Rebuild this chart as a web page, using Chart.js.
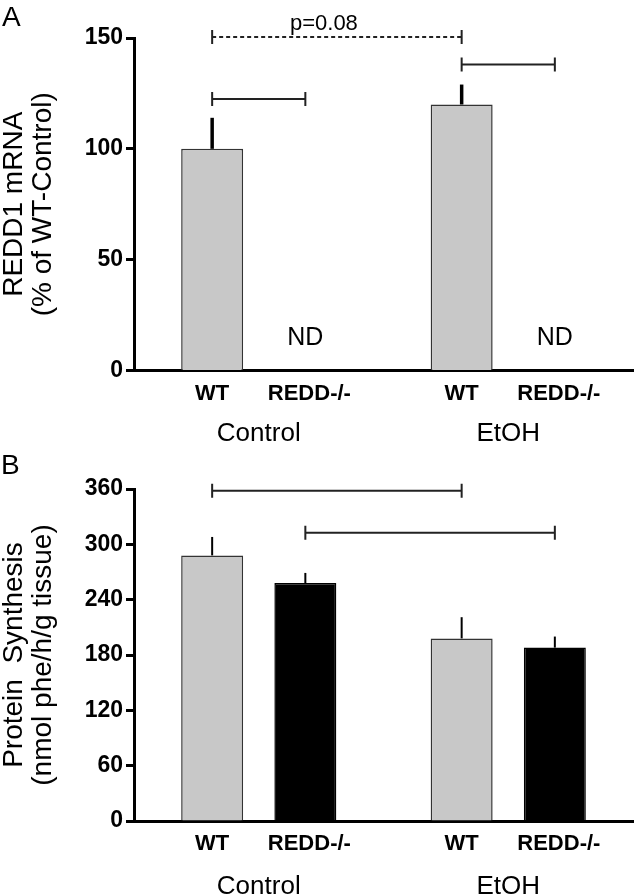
<!DOCTYPE html>
<html>
<head>
<meta charset="utf-8">
<script src="https://cdn.jsdelivr.net/npm/chart.js@4/dist/chart.umd.min.js"></script>
<style>
  html, body { margin: 0; padding: 0; background: #fff; }
  #page { position: relative; width: 640px; height: 896px; font-family: "Liberation Sans", Arial, sans-serif; }
  .panel { position: absolute; left: 0; width: 640px; height: 448px; }
  .tag { position: absolute; line-height: 1; color: #000; }
</style>
</head>
<body>
<div id="page">
  <div class="panel" style="top: 0;"><canvas id="chartA" width="640" height="448"></canvas></div>
  <div class="panel" style="top: 448px;"><canvas id="chartB" width="640" height="448"></canvas></div>
  <div class="tag" style="left: 2px; top: 3px; font-size: 28px;">A</div>
  <div class="tag" style="left: 1px; top: 451px; font-size: 28px;">B</div>
</div>
<script>
// DATA
const groups = ['Control', 'EtOH'];
const genotypes = ['WT', 'REDD-/-'];

// panel A: REDD1 mRNA, % of WT-Control (REDD-/- not detected)
const mrnaWT = [100, 120];
const mrnaWTErr = [14, 9];
const mrnaREDD = [null, null];
const mrnaREDDErr = [0, 0];
const mrnaTicks = [0, 50, 100, 150];
const mrnaBracketLevels = [122.5, 138, 150.5];
const mrnaPLabel = 'p=0.08';

// panel B: protein synthesis, nmol phe/h/g tissue
const synthWT = [288, 198];
const synthWTErr = [20, 23];
const synthREDD = [258, 188];
const synthREDDErr = [11, 12];
const synthTicks = [0, 60, 120, 180, 240, 300, 360];
const synthBracketLevels = [358, 312.5];

Chart.defaults.font.family = '"Liberation Sans", Arial, sans-serif';
Chart.defaults.color = '#000';

// draws error bars, sub labels, ND marks and the significance brackets
const annotatePlugin = {
    id: 'annotate',
    afterDatasetsDraw(chart, args, opts) {
        const ctx = chart.ctx;
        const yScale = chart.scales.y;
        const area = chart.chartArea;
        ctx.save();

        chart.data.datasets.forEach((ds, d) => {
            const meta = chart.getDatasetMeta(d);
            meta.data.forEach((bar, i) => {
                const v = ds.data[i];
                if (v == null) {
                    ctx.fillStyle = '#000';
                    ctx.font = '25px "Liberation Sans", Arial, sans-serif';
                    ctx.textAlign = 'center'; ctx.textBaseline = 'middle';
                    ctx.fillText('ND', bar.x, area.bottom - 32);
                } else {
                    const top = yScale.getPixelForValue(v + opts.errors[d][i]);
                    ctx.strokeStyle = '#000'; ctx.lineWidth = opts.errWidth; ctx.setLineDash([]);
                    ctx.beginPath(); ctx.moveTo(bar.x, bar.y); ctx.lineTo(bar.x, top); ctx.stroke();
                }
                // genotype label under each bar
                ctx.fillStyle = '#000';
                ctx.font = 'bold 22px "Liberation Sans", Arial, sans-serif';
                ctx.textAlign = 'center'; ctx.textBaseline = 'middle';
                ctx.fillText(genotypes[d], bar.x + d * 4, area.bottom + 23);
            });
        });

        opts.brackets.forEach(b => {
            const x1 = chart.getDatasetMeta(b.from[0]).data[b.from[1]].x;
            const x2 = chart.getDatasetMeta(b.to[0]).data[b.to[1]].x;
            const yy = yScale.getPixelForValue(b.level);
            ctx.strokeStyle = '#222'; ctx.lineWidth = 2;
            ctx.setLineDash(b.dashed ? [4, 3] : []);
            ctx.beginPath(); ctx.moveTo(x1, yy); ctx.lineTo(x2, yy); ctx.stroke();
            ctx.setLineDash([]);
            ctx.beginPath();
            ctx.moveTo(x1, yy - 7); ctx.lineTo(x1, yy + 7);
            ctx.moveTo(x2, yy - 7); ctx.lineTo(x2, yy + 7);
            ctx.stroke();
            if (b.label) {
                ctx.fillStyle = '#000';
                ctx.font = '22px "Liberation Sans", Arial, sans-serif';
                ctx.textAlign = 'center'; ctx.textBaseline = 'alphabetic';
                ctx.fillText(b.label, (x1 + x2) / 2 - 13, yy - 7);
            }
        });
        ctx.restore();
    }
};

function buildPanel(id, p) {
    const ctx = document.getElementById(id).getContext('2d');
    return new Chart(ctx, {
        type: 'bar',
        data: {
            labels: groups,
            datasets: [
                { label: genotypes[0], data: p.wt, backgroundColor: '#c8c8c8', borderColor: '#333', borderWidth: 1.5 },
                { label: genotypes[1], data: p.redd, backgroundColor: '#000', borderColor: '#000', borderWidth: 1.5 }
            ]
        },
        plugins: [annotatePlugin],
        options: {
            responsive: false, animation: false,
            layout: { padding: { top: p.top, right: 7, left: 0, bottom: 0 } },
            datasets: { bar: { categoryPercentage: 0.747, barPercentage: 0.665 } },
            plugins: {
                legend: { display: false }, tooltip: { enabled: false },
                annotate: { errors: [p.wtErr, p.reddErr], errWidth: p.errWidth, brackets: p.brackets }
            },
            scales: {
                x: {
                    grid: { display: false },
                    border: { display: true, color: '#000', width: 3 },
                    ticks: { font: { size: 26 }, color: '#000', padding: p.xPad },
                    afterFit: (s) => { s.height = 448 - p.bottom; }
                },
                y: {
                    min: 0, max: p.ticks[p.ticks.length - 1],
                    afterBuildTicks: (s) => { s.ticks = p.ticks.map(v => ({ value: v })); },
                    grid: { display: true, drawOnChartArea: false, drawTicks: true, tickLength: 8, tickWidth: 3, tickColor: '#000', color: '#000' },
                    border: { display: true, color: '#000', width: 3 },
                    ticks: { font: { size: 23, weight: 'bold' }, color: '#000', padding: 3 },
                    title: { display: true, text: p.title, font: { size: 28, lineHeight: 1.04 }, color: '#000', padding: { top: 0, bottom: 0 } },
                    afterFit: (s) => { s.width = 134; }
                }
            }
        }
    });
}

buildPanel('chartA', {
    wt: mrnaWT, wtErr: mrnaWTErr, redd: mrnaREDD, reddErr: mrnaREDDErr,
    ticks: mrnaTicks, title: ['REDD1 mRNA', '(% of WT-Control)'],
    top: 38, bottom: 370.5, xPad: 40, errWidth: 3.5,
    brackets: [
        { from: [0, 0], to: [1, 0], level: mrnaBracketLevels[0] },
        { from: [0, 1], to: [1, 1], level: mrnaBracketLevels[1] },
        { from: [0, 0], to: [0, 1], level: mrnaBracketLevels[2], dashed: true, label: mrnaPLabel }
    ]
});

buildPanel('chartB', {
    wt: synthWT, wtErr: synthWTErr, redd: synthREDD, reddErr: synthREDDErr,
    ticks: synthTicks, title: ['Protein  Synthesis', '(nmol phe/h/g tissue)'],
    top: 41, bottom: 373, xPad: 42, errWidth: 2,
    brackets: [
        { from: [0, 0], to: [0, 1], level: synthBracketLevels[0] },
        { from: [1, 0], to: [1, 1], level: synthBracketLevels[1] }
    ]
});
</script>
</body>
</html>
